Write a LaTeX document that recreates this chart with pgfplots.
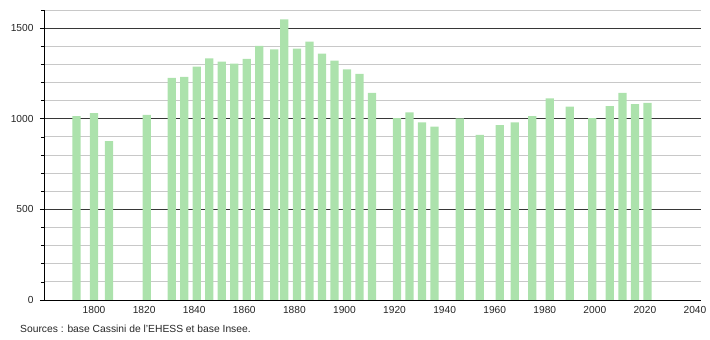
\documentclass[border=0pt]{standalone}
\usepackage{pgfplots}
\pgfplotsset{compat=1.18}
\usepackage{fontspec}
\setmainfont{Liberation Sans}
\definecolor{barg}{RGB}{172,226,172}
\definecolor{majg}{RGB}{55,55,55}
\definecolor{ming}{RGB}{200,200,200}
\pgfplotstableread{
year pop
1793 1015
1800 1031
1806 876
1821 1022
1831 1226
1836 1231
1841 1287
1846 1333
1851 1315
1856 1304
1861 1331
1866 1402
1872 1383
1876 1548
1881 1387
1886 1426
1891 1359
1896 1320
1901 1272
1906 1248
1911 1143
1921 1004
1926 1035
1931 980
1936 957
1946 1002
1954 911
1962 965
1968 980
1975 1015
1982 1113
1990 1067
1999 1004
2006 1070
2011 1143
2016 1081
2021 1087
}\popdata
\begin{document}
\begin{tikzpicture}[x=1pt,y=1pt]
\useasboundingbox (0,0) rectangle (710,340);
\begin{axis}[
  at={(44pt,40pt)}, anchor=south west,
  scale only axis, width=657pt, height=290pt,
  xmin=1780, xmax=2042.4, ymin=0, ymax=1600,
  axis x line*=bottom, axis y line*=left,
  axis line style={-, black, line width=0.9pt},
  xtick={1800,1820,...,2040},
  ytick={0,500,1000,1500},
  minor ytick={100,200,300,400,600,700,800,900,1100,1200,1300,1400,1600},
  ymajorgrids, yminorgrids,
  major grid style={majg, line width=0.9pt},
  minor grid style={ming, line width=0.8pt},
  tick align=outside,
  major x tick style={draw=none},
  major y tick style={black, line width=0.8pt},
  minor y tick style={black, line width=0.6pt},
  major tick length=4pt, minor tick length=3pt,
  tick label style={font=\fontsize{10.2}{12}\selectfont, text=black!85},
  /pgf/number format/assume math mode=true,
  /pgf/number format/set thousands separator={},
  xticklabel style={yshift=1pt},
  yticklabel style={xshift=-3pt},
  clip=false,
]
\addplot[ybar, bar width=3.3, fill=barg, draw=none] table[x=year,y=pop]{\popdata};
\end{axis}
\node[anchor=west, font=\fontsize{10.3}{12}\selectfont, text=black!85, inner sep=0pt] at (20,11) {Sources : base Cassini de l'EHESS et base Insee.};
\end{tikzpicture}
\end{document}
